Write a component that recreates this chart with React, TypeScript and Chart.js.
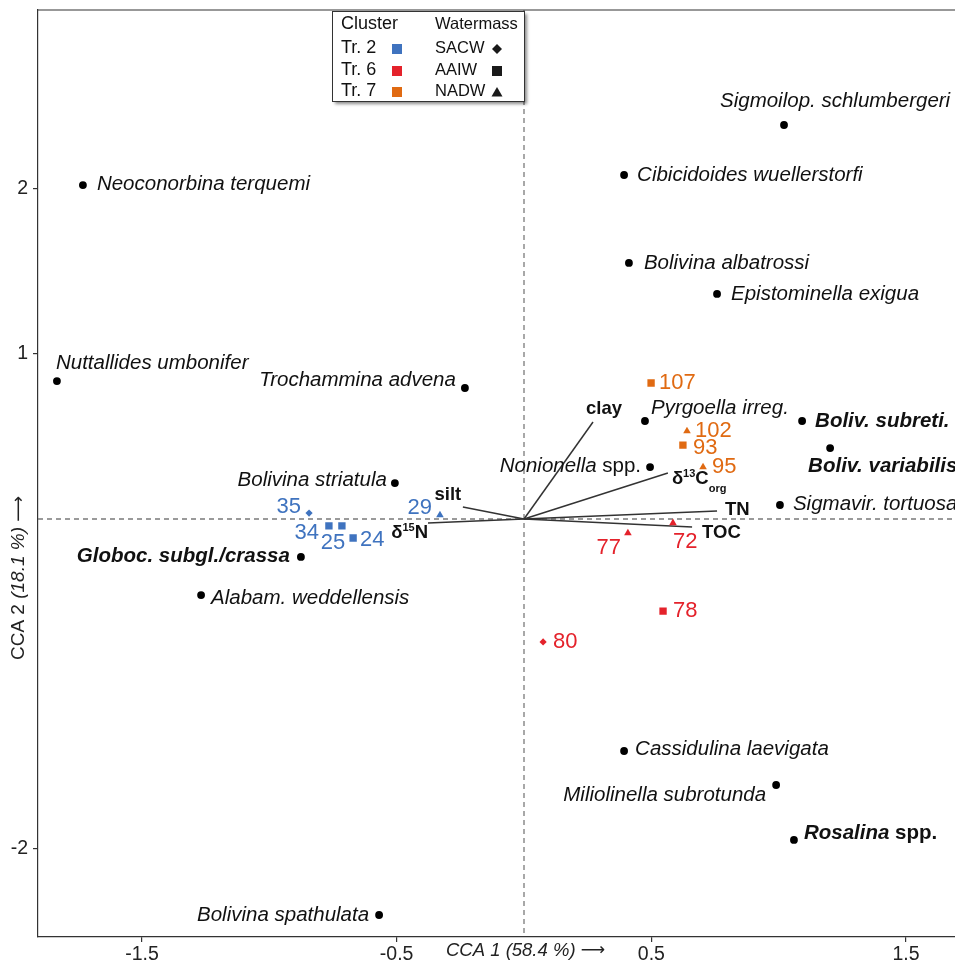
import React, { useEffect, useRef } from "react";
import { Chart, registerables } from "chart.js";
Chart.register(...registerables);

const FONT = "'Liberation Sans', Arial, Helvetica, sans-serif";
const ARROW_FONT = "'DejaVu Sans', sans-serif";

// ---- Data ----
const speciesNames = [
  "Sigmoilop. schlumbergeri", "Neoconorbina terquemi", "Cibicidoides wuellerstorfi",
  "Bolivina albatrossi", "Epistominella exigua", "Nuttallides umbonifer",
  "Trochammina advena", "Pyrgoella irreg.", "Boliv. subreti.", "Boliv. variabilis",
  "Nonionella spp.", "Bolivina striatula", "Sigmavir. tortuosa", "Globoc. subgl./crassa",
  "Alabam. weddellensis", "Cassidulina laevigata", "Miliolinella subrotunda",
  "Rosalina spp.", "Bolivina spathulata",
];
const speciesX = [1.021, -1.732, 0.393, 0.412, 0.758, -1.834, -0.232, 0.475, 1.092, 1.202,
  0.495, -0.507, 1.005, -0.876, -1.268, 0.393, 0.990, 1.060, -0.569];
const speciesY = [2.388, 2.024, 2.085, 1.552, 1.364, 0.836, 0.794, 0.594, 0.594, 0.430,
  0.315, 0.218, 0.085, -0.230, -0.461, -1.406, -1.612, -1.945, -2.400];
const speciesBold = [false, false, false, false, false, false, false, false, true, true,
  false, false, false, true, false, false, false, true, false];

const sampleIds = ["35", "34", "25", "24", "29", "77", "72", "78", "80", "107", "102", "93", "95"];
const sampleX = [-0.844, -0.766, -0.715, -0.671, -0.330, 0.408, 0.585, 0.546, 0.075, 0.499, 0.640, 0.624, 0.703];
const sampleY = [0.036, -0.042, -0.042, -0.115, 0.024, -0.085, -0.024, -0.558, -0.745, 0.824, 0.533, 0.448, 0.315];
const sampleCluster = ["Tr. 2", "Tr. 2", "Tr. 2", "Tr. 2", "Tr. 2", "Tr. 6", "Tr. 6", "Tr. 6", "Tr. 6",
  "Tr. 7", "Tr. 7", "Tr. 7", "Tr. 7"];
const sampleWatermass = ["SACW", "AAIW", "AAIW", "AAIW", "NADW", "NADW", "NADW", "AAIW", "SACW",
  "AAIW", "NADW", "AAIW", "NADW"];

const envNames = ["clay", "δ13Corg", "TN", "TOC", "silt", "δ15N"];
const envX = [0.271, 0.565, 0.758, 0.660, -0.240, -0.377];
const envY = [0.588, 0.279, 0.048, -0.048, 0.073, -0.024];

const clusters = ["Tr. 2", "Tr. 6", "Tr. 7"];
const watermasses = ["SACW", "AAIW", "NADW"];

const xTicks = [-1.5, -0.5, 0.5, 1.5];
const yTicks = [-2, 1, 2];

// ---- Layout (pixel scale of the axes) ----
const X_ZERO_PX = 524;
const X_PX_PER_UNIT = 254.67;
const Y_ZERO_PX = 519;
const Y_PX_PER_UNIT = 165;

// ---- Styling / label placement (pixels) ----
const clusterColor: Record<string, string> = { "Tr. 2": "#3f73bf", "Tr. 6": "#e4222b", "Tr. 7": "#e06a12" };
const wmStyle: Record<string, string> = { SACW: "rectRot", AAIW: "rect", NADW: "triangle" };
const wmRadius: Record<string, number> = { SACW: 3.6, AAIW: 5.2, NADW: 4.4 };

// [dx, dy, align]
const speciesLabelPos: [number, number, string][] = [
  [-64, -24, "left"], [14, -1, "left"], [13, 0, "left"], [15, 0, "left"], [14, 0, "left"],
  [-1, -18, "left"], [-9, -8, "right"], [6, -13, "left"], [13, 0, "left"], [-22, 18, "left"],
  [-9, -1, "right"], [-8, -3, "right"], [13, -1, "left"], [-11, -1, "right"], [10, 3, "left"],
  [11, -2, "left"], [-10, 10, "right"], [10, -7, "left"], [-10, 0, "right"],
];
const sampleLabelPos: [number, number, string][] = [
  [-8, -6, "right"], [-10, 7, "right"], [-9, 17, "center"], [7, 2, "left"], [-8, -7, "right"],
  [-7, 15, "right"], [0, 19, "left"], [10, 0, "left"], [10, 0, "left"],
  [8, 0, "left"], [8, 0, "left"], [10, 3, "left"], [9, 0, "left"],
];
const envLabelPos: [number, number, string][] = [
  [11, -13, "center"], [4, 6, "left"], [8, -1, "left"], [10, 6, "left"], [-15, -12, "center"], [0, 10, "right"],
];

type Seg = { t: string; f: string; dy?: number };

function speciesSegs(name: string, bold: boolean): Seg[] {
  const w = bold ? "bold " : "";
  const it = `italic ${w}20.5px ${FONT}`;
  if (name.endsWith(" spp.")) {
    return [{ t: name.slice(0, -5), f: it }, { t: " spp.", f: `${w}20.5px ${FONT}` }];
  }
  return [{ t: name, f: it }];
}
function envSegs(name: string): Seg[] {
  const b = `bold 18.5px ${FONT}`;
  const s = `bold 11px ${FONT}`;
  const m = name.match(/^δ(\d+)([A-Z])(.*)$/);
  if (!m) return [{ t: name, f: b }];
  const segs: Seg[] = [{ t: "δ", f: b }, { t: m[1], f: s, dy: -5 }, { t: m[2], f: b }];
  if (m[3]) segs.push({ t: m[3], f: s, dy: 10 });
  return segs;
}

function drawRich(ctx: CanvasRenderingContext2D, segs: Seg[], x: number, y: number, align: string, color: string) {
  let total = 0;
  const widths = segs.map((s) => { ctx.font = s.f; const w = ctx.measureText(s.t).width; total += w; return w; });
  let cx = align === "right" ? x - total : align === "center" ? x - total / 2 : x;
  ctx.textAlign = "left";
  ctx.textBaseline = "middle";
  ctx.fillStyle = color;
  segs.forEach((s, i) => {
    ctx.font = s.f;
    ctx.fillText(s.t, cx, y + (s.dy || 0));
    cx += widths[i];
  });
}

const labelPlugin = {
  id: "pointLabels",
  afterDatasetsDraw(chart: any) {
    const ctx = chart.ctx as CanvasRenderingContext2D;
    ctx.save();
    chart.data.datasets.forEach((ds: any, i: number) => {
      if (!ds.pointLabels) return;
      const meta = chart.getDatasetMeta(i);
      ds.pointLabels.forEach((lab: any) => {
        const el = meta.data[lab.index];
        if (!el) return;
        drawRich(ctx, lab.segs, el.x + lab.pos[0], el.y + lab.pos[1], lab.pos[2], lab.color);
      });
    });
    ctx.restore();
  },
};

const framePlugin = {
  id: "frame",
  beforeDatasetsDraw(chart: any) {
    const { ctx, chartArea: a, scales } = chart;
    ctx.save();
    ctx.strokeStyle = "#7a7a7a";
    ctx.lineWidth = 1.3;
    ctx.setLineDash([5, 4]);
    const x0 = scales.x.getPixelForValue(0);
    const y0 = scales.y.getPixelForValue(0);
    ctx.beginPath();
    ctx.moveTo(x0, a.top); ctx.lineTo(x0, a.bottom);
    ctx.moveTo(a.left, y0); ctx.lineTo(a.right, y0);
    ctx.stroke();
    ctx.setLineDash([]);
    ctx.strokeStyle = "#333";
    ctx.lineWidth = 1.2;
    ctx.beginPath();
    ctx.moveTo(a.left, a.top); ctx.lineTo(a.right, a.top); ctx.lineTo(a.right, a.bottom);
    ctx.stroke();
    ctx.restore();
  },
  afterDraw(chart: any) {
    const { ctx } = chart;
    ctx.save();
    // x title
    drawRich(ctx, [
      { t: "CCA 1 (58.4 %) ", f: `italic 18.5px ${FONT}` },
      { t: "⟶", f: `17px ${ARROW_FONT}` },
    ], 446, 951, "left", "#222");
    // y title
    ctx.translate(19, 578);
    ctx.rotate(-Math.PI / 2);
    drawRich(ctx, [
      { t: "CCA 2 ", f: `19px ${FONT}` },
      { t: "(18.1 %) ", f: `italic 19px ${FONT}` },
      { t: "⟶", f: `18px ${ARROW_FONT}` },
    ], 0, 0, "center", "#222");
    ctx.setTransform(1, 0, 0, 1, 0, 0);
    // legend box
    const bx = 332, by = 11, bw = 192, bh = 90;
    ctx.shadowColor = "rgba(0,0,0,0.45)";
    ctx.shadowOffsetX = 3;
    ctx.shadowOffsetY = 3;
    ctx.shadowBlur = 3;
    ctx.fillStyle = "#fff";
    ctx.fillRect(bx, by, bw, bh);
    ctx.shadowColor = "transparent";
    ctx.strokeStyle = "#333";
    ctx.lineWidth = 1;
    ctx.strokeRect(bx + 0.5, by + 0.5, bw, bh);
    drawRich(ctx, [{ t: "Cluster", f: `18px ${FONT}` }], 341, 24, "left", "#111");
    drawRich(ctx, [{ t: "Watermass", f: `16.5px ${FONT}` }], 435, 24, "left", "#111");
    const rows = [48, 70, 91];
    clusters.forEach((c, i) => {
      drawRich(ctx, [{ t: c, f: `18px ${FONT}` }], 341, rows[i], "left", "#111");
      ctx.fillStyle = clusterColor[c];
      ctx.fillRect(397 - 5, rows[i] + 1 - 5, 10, 10);
    });
    watermasses.forEach((w, i) => {
      drawRich(ctx, [{ t: w, f: `16.5px ${FONT}` }], 435, rows[i], "left", "#111");
      ctx.fillStyle = "#1a1a1a";
      const cx = 497, cy = rows[i] + 1;
      ctx.beginPath();
      if (wmStyle[w] === "rectRot") {
        ctx.moveTo(cx, cy - 5); ctx.lineTo(cx + 5, cy); ctx.lineTo(cx, cy + 5); ctx.lineTo(cx - 5, cy);
      } else if (wmStyle[w] === "rect") {
        ctx.rect(cx - 5, cy - 5, 10, 10);
      } else {
        ctx.moveTo(cx, cy - 5); ctx.lineTo(cx + 5.5, cy + 4.5); ctx.lineTo(cx - 5.5, cy + 4.5);
      }
      ctx.closePath();
      ctx.fill();
    });
    ctx.restore();
  },
};

function zeroPad(s: any) {
  s.paddingTop = 0; s.paddingBottom = 0; s.paddingLeft = 0; s.paddingRight = 0;
}

export default function App() {
  const ref = useRef<HTMLCanvasElement>(null);
  useEffect(() => {
    if (!ref.current) return;
    const datasets: any[] = [];

    // environmental vectors
    envNames.forEach((n, i) => {
      datasets.push({
        data: [{ x: 0, y: 0 }, { x: envX[i], y: envY[i] }],
        showLine: true,
        borderColor: "#333",
        borderWidth: 1.5,
        pointRadius: 0,
        order: 10,
        pointLabels: [{ index: 1, segs: envSegs(n), pos: envLabelPos[i], color: "#111" }],
      });
    });

    // species
    datasets.push({
      data: speciesNames.map((_, i) => ({ x: speciesX[i], y: speciesY[i] })),
      pointRadius: 3.9,
      pointBackgroundColor: "#000",
      pointBorderWidth: 0,
      order: 2,
      pointLabels: speciesNames.map((n, i) => ({
        index: i, segs: speciesSegs(n, speciesBold[i]), pos: speciesLabelPos[i], color: "#111",
      })),
    });

    // samples per cluster
    clusters.forEach((c) => {
      const idx = sampleIds.map((_, i) => i).filter((i) => sampleCluster[i] === c);
      datasets.push({
        data: idx.map((i) => ({ x: sampleX[i], y: sampleY[i] })),
        pointStyle: idx.map((i) => wmStyle[sampleWatermass[i]]),
        pointRadius: idx.map((i) => wmRadius[sampleWatermass[i]]),
        pointBackgroundColor: clusterColor[c],
        pointBorderWidth: 0,
        order: 1,
        pointLabels: idx.map((i, k) => ({
          index: k, segs: [{ t: sampleIds[i], f: `22px ${FONT}` }], pos: sampleLabelPos[i], color: clusterColor[c],
        })),
      });
    });

    const chart = new Chart(ref.current, {
      type: "scatter",
      data: { datasets },
      options: {
        responsive: false,
        animation: false,
        devicePixelRatio: 1,
        events: [],
        layout: { padding: { top: 10, left: 0, right: 0, bottom: 0 } },
        plugins: { legend: { display: false }, tooltip: { enabled: false } },
        scales: {
          x: {
            type: "linear",
            min: -1.912,
            max: 1.771,
            afterBuildTicks: (s: any) => { s.ticks = xTicks.map((v) => ({ value: v })); },
            afterFit: (s: any) => { s.height = 26; zeroPad(s); },
            grid: { drawOnChartArea: false, drawTicks: true, tickLength: 5, color: "#333", lineWidth: 1.2 },
            border: { display: true, color: "#333", width: 1.2 },
            ticks: {
              font: { family: FONT, size: 19.5 }, color: "#222", padding: 1,
              maxRotation: 0, autoSkip: false, callback: (v: any) => String(v),
            },
          },
          y: {
            type: "linear",
            min: -2.533,
            max: 3.085,
            afterBuildTicks: (s: any) => { s.ticks = yTicks.map((v) => ({ value: v })); },
            afterFit: (s: any) => { s.width = 38; zeroPad(s); },
            grid: { drawOnChartArea: false, drawTicks: true, tickLength: 5, color: "#333", lineWidth: 1.2 },
            border: { display: true, color: "#333", width: 1.2 },
            ticks: {
              font: { family: FONT, size: 19.5 }, color: "#222", padding: 5,
              autoSkip: false, callback: (v: any) => String(v),
            },
          },
        },
      },
      plugins: [framePlugin, labelPlugin],
    } as any);

    // calibrate axis ranges so the scales have the reference's pixel scale
    const a = chart.chartArea;
    const sx: any = chart.options.scales!.x;
    const sy: any = chart.options.scales!.y;
    sx.min = (a.left - X_ZERO_PX) / X_PX_PER_UNIT;
    sx.max = (a.right - X_ZERO_PX) / X_PX_PER_UNIT;
    sy.max = (Y_ZERO_PX - a.top) / Y_PX_PER_UNIT;
    sy.min = (Y_ZERO_PX - a.bottom) / Y_PX_PER_UNIT;
    chart.update("none");

    return () => chart.destroy();
  }, []);

  return (
    <div style={{ position: "fixed", left: 0, top: 0, width: 955, height: 963, overflow: "hidden", background: "#fff" }}>
      <canvas ref={ref} width={975} height={963} style={{ display: "block" }} />
    </div>
  );
}
